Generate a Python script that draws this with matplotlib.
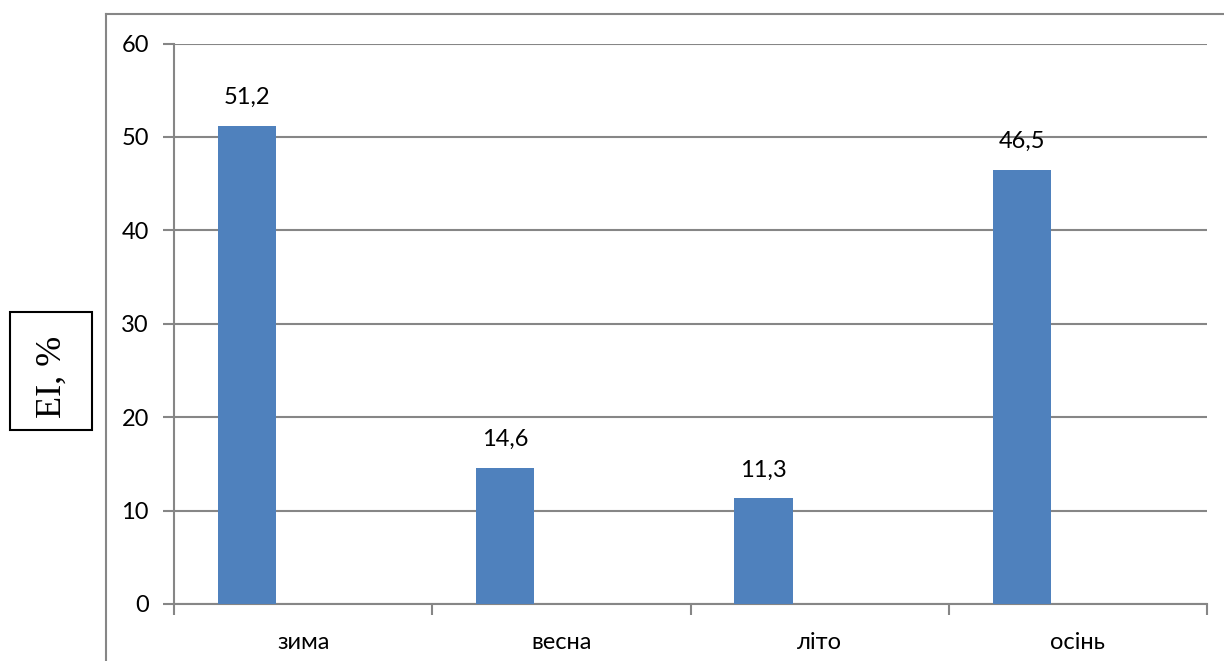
import matplotlib
matplotlib.use("Agg")
import matplotlib.pyplot as plt
from matplotlib.patches import Rectangle
from matplotlib.lines import Line2D
import numpy as np

categories = ["зима", "весна", "літо", "осінь"]
values = [51.2, 14.6, 11.3, 46.5]
labels = ["51,2", "14,6", "11,3", "46,5"]
yticks = [0, 10, 20, 30, 40, 50, 60]

W, H = 1224, 661
fig = plt.figure(figsize=(W / 100, H / 100), dpi=100)
plt.rcParams['font.family'] = ['Lato', 'DejaVu Sans']

left, right, top, bottom = 174, 1207, 43.5, 604
ax = fig.add_axes([left / W, 1 - bottom / H, (right - left) / W, (bottom - top) / H])

grid_c = "#868686"
bar_c = "#4F81BD"

x = np.arange(len(categories))
bw = 0.225
off = 0.33
ax.bar(x - off, values, width=bw, align='edge', color=bar_c, zorder=3)
for xi, v, lab in zip(x, values, labels):
    ax.annotate(lab, (xi - off + bw / 2, v), xytext=(0, 13), textcoords='offset points',
                ha='center', va='bottom', fontsize=17, color='black')

ax.set_xlim(-0.5, 3.5)
ax.set_ylim(0, 60)
ax.set_yticks(yticks)
ax.set_yticklabels([str(t) for t in yticks], fontsize=17)
ax.yaxis.grid(True, color=grid_c, linewidth=1.5, zorder=0)
ax.set_axisbelow(True)

ax.set_xticks(x)
ax.set_xticklabels(categories, fontsize=17)
ax.set_xticks(np.arange(-0.5, 4.0, 1.0), minor=True)
ax.tick_params(axis='x', which='major', length=0, pad=20)
ax.tick_params(axis='x', which='minor', length=8, width=1.5, color=grid_c, direction='out')
ax.tick_params(axis='y', length=8, width=1.5, color=grid_c, direction='out', pad=10)

for s in ['top', 'right']:
    ax.spines[s].set_visible(False)
for s in ['left', 'bottom']:
    ax.spines[s].set_color(grid_c)
    ax.spines[s].set_linewidth(1.5)

# outer chart border (left & top, clipped by the image)
fig.add_artist(Line2D([106 / W, 106 / W], [0, 1 - 14 / H], transform=fig.transFigure,
                      color=grid_c, linewidth=1.5))
fig.add_artist(Line2D([106 / W, 1], [1 - 14 / H, 1 - 14 / H], transform=fig.transFigure,
                      color=grid_c, linewidth=1.5))

# y-axis title in a box
fig.add_artist(Rectangle((10 / W, 1 - 430 / H), 82 / W, 118 / H, transform=fig.transFigure,
                         fill=False, edgecolor='black', linewidth=1.5))
fig.text(52 / W, 1 - 377 / H, "EI, %", rotation=90, ha='center', va='center',
         fontsize=26, family=['Liberation Serif', 'DejaVu Serif'])

fig.savefig("out.png", dpi=100)
